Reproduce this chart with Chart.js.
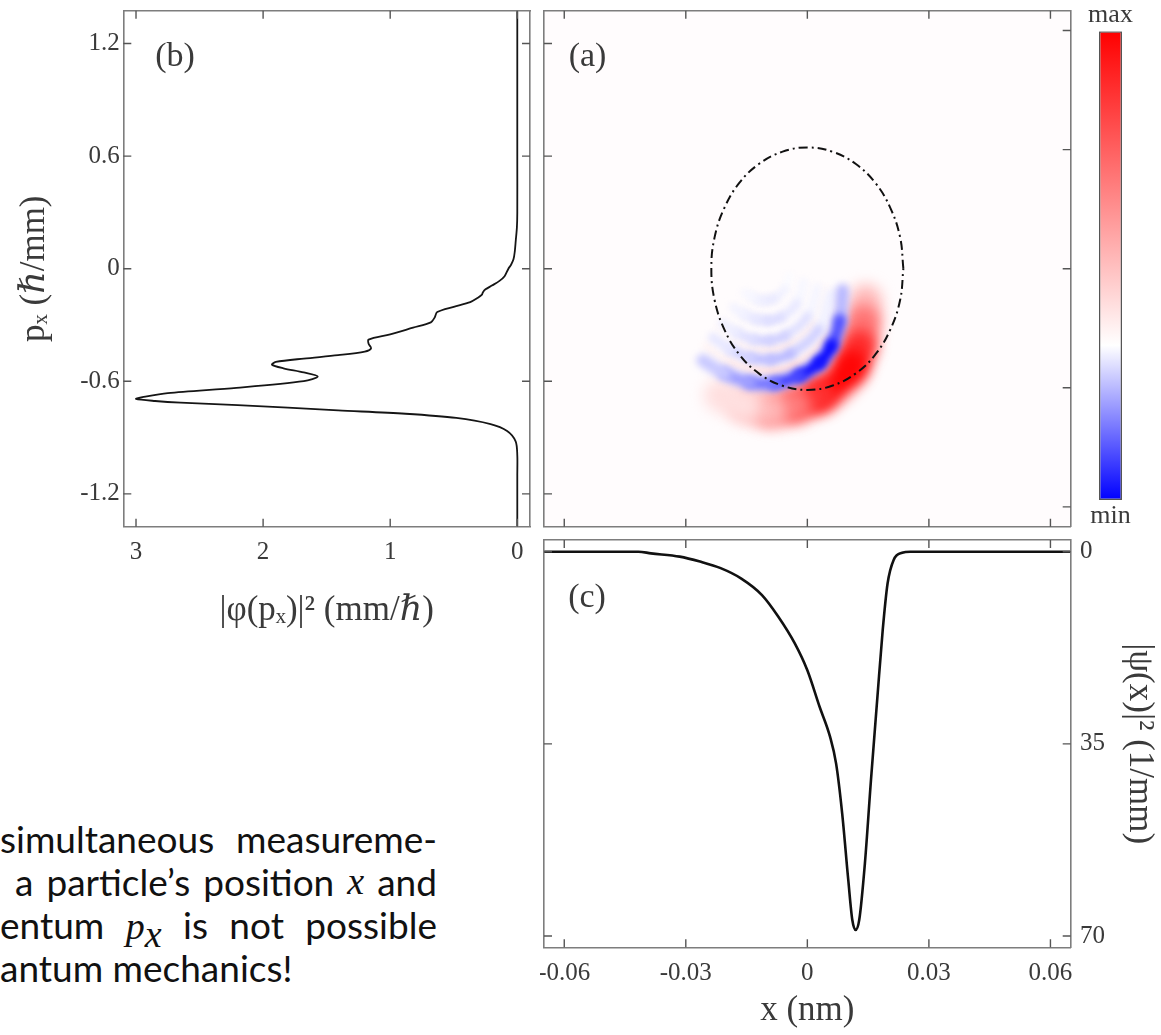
<!DOCTYPE html>
<html lang="en">
<head>
<meta charset="UTF-8">
<title>Wigner function with momentum and position distributions</title>
<script src="https://cdn.jsdelivr.net/npm/chart.js"></script>
<style>
  html, body { margin: 0; padding: 0; background: #fff; }
  #page { position: relative; width: 1161px; height: 1035px; overflow: hidden; }
  #page canvas { position: absolute; }
  .note { position: absolute; height: 43px; font-family: Lato, 'Open Sans', sans-serif; font-size: 37px; line-height: 43px; color: #111; white-space: nowrap; }
  .note.row { display: flex; justify-content: space-between; }
  .note i { font-family: 'Liberation Serif', 'DejaVu Serif', serif; font-size: 38px; }
  .note sub { font-size: 23px; line-height: 0; }
</style>
</head>
<body>
<div id="page">
  <canvas id="panelB" width="545" height="640" style="left:0;top:0;width:545px;height:640px"></canvas>
  <canvas id="panelA" width="540" height="535" style="left:540px;top:0;width:540px;height:535px"></canvas>
  <canvas id="panelC" width="621" height="500" style="left:540px;top:535px;width:621px;height:500px"></canvas>
  <canvas id="colorbar" width="101" height="535" style="left:1060px;top:0;width:101px;height:535px"></canvas>

  <div class="note row" style="left:0;top:817px;width:437px"><span>simultaneous</span><span>measureme-</span></div>
  <div class="note row" style="left:15px;top:860px;width:422px"><span>a</span><span>particle’s</span><span>position</span><i>x</i><span>and</span></div>
  <div class="note row" style="left:0;top:903px;width:437px"><span>entum</span><span><i>p</i><sub><i>x</i></sub></span><span>is</span><span>not</span><span>possible</span></div>
  <div class="note" style="left:0;top:946px">antum mechanics!</div>
</div>

<script>
// ---------- data ----------

// (b) momentum distribution |φ(p_x)|² (mm/ħ) against p_x (ħ/mm)
const momP = [1.375, 0.6, 0.3, 0.22, 0.15, 0.09, 0.05, 0.02, 0, -0.04, -0.065, -0.09, -0.11, -0.125, -0.14, -0.155,
              -0.178, -0.203, -0.231, -0.26, -0.286, -0.314, -0.35, -0.378, -0.40, -0.424, -0.442, -0.461, -0.479,
              -0.497, -0.512, -0.531, -0.553, -0.575, -0.599, -0.635, -0.663, -0.685, -0.694, -0.705, -0.714, -0.727,
              -0.755, -0.773, -0.795, -0.828, -0.865, -0.92, -0.994, -1.1, -1.375];
const momDensity = [0, 0, 0, 0.003, 0.012, 0.02, 0.03, 0.05, 0.07, 0.1, 0.14, 0.2, 0.25, 0.27, 0.28, 0.31,
                    0.37, 0.5, 0.63, 0.65, 0.68, 0.82, 1.0, 1.17, 1.17, 1.15, 1.2, 1.41, 1.68,
                    1.9, 1.93, 1.84, 1.68, 1.57, 1.68, 2.21, 2.75, 2.95, 3.0, 2.85, 2.65, 2.2,
                    1.41, 0.88, 0.48, 0.21, 0.08, 0.013, 0, 0, 0];

// (c) position distribution |ψ(x)|² (1/mm) against x (nm)
const posX = [-0.065, -0.05, -0.0417, -0.0386, -0.0315, -0.0265, -0.0214, -0.0163, -0.0112, -0.0072, -0.0031, 0,
              0.003, 0.0056, 0.0071, 0.0086, 0.0101, 0.0111, 0.0119, 0.0128, 0.0142, 0.0157, 0.0173, 0.0186,
              0.0198, 0.0213, 0.0234, 0.0254, 0.04, 0.065];
const posDensity = [0, 0, 0, 0.3, 0.9, 1.8, 3.0, 4.9, 7.9, 11.8, 16.7, 21.6,
                    28.2, 33.7, 38.6, 47.7, 59.8, 67.1, 68.9, 67.1, 56.8, 41.6, 26.4, 14.3,
                    5.8, 1.5, 0.2, 0, 0, 0];

// (a) dash-dot ellipse
const ellipseX = [0.0237, 0.0229, 0.0205, 0.0168, 0.0119, 0.0061, 0, -0.0061, -0.0119, -0.0168, -0.0205, -0.0229,
                  -0.0237, -0.0229, -0.0205, -0.0168, -0.0119, -0.0061, 0, 0.0061, 0.0119, 0.0168, 0.0205, 0.0229, 0.0237];
const ellipseP = [0, 0.167, 0.323, 0.457, 0.559, 0.624, 0.646, 0.624, 0.559, 0.457, 0.323, 0.167,
                  0, -0.167, -0.323, -0.457, -0.559, -0.624, -0.646, -0.624, -0.559, -0.457, -0.323, -0.167, 0];

// (a) Wigner function ridges: points along each fringe and its level (+1 = max, -1 = min)
const redMainX = [0.0144, 0.0139, 0.0129, 0.0109, 0.0080, 0.0030, -0.0031, -0.0093, -0.0155, -0.0216];
const redMainP = [-0.169, -0.276, -0.409, -0.516, -0.596, -0.676, -0.729, -0.756, -0.729, -0.676];
const redMainW = [0.15, 0.38, 0.7, 0.95, 1, 0.95, 0.65, 0.38, 0.18, 0.07];

const blueMainX = [0.0087, 0.0080, 0.0060, 0.0030, -0.0019, -0.0081, -0.0142, -0.0204, -0.0258];
const blueMainP = [-0.116, -0.276, -0.409, -0.500, -0.569, -0.611, -0.606, -0.558, -0.489];
const blueMainW = [-0.1, -0.45, -0.9, -1, -0.85, -0.6, -0.45, -0.3, -0.12];

const blue4X = [0.0057, 0.0028, -0.0041, -0.0090, -0.0140, -0.0189, -0.0233];
const blue4P = [-0.132, -0.324, -0.452, -0.484, -0.474, -0.431, -0.367];
const blue4W = [-0.01, -0.1, -0.26, -0.28, -0.22, -0.14, -0.05];

const blue3X = [0.0025, 0.0001, -0.0054, -0.0093, -0.0132, -0.0174, -0.0209];
const blue3P = [-0.10, -0.254, -0.356, -0.382, -0.377, -0.340, -0.292];
const blue3W = [-0.01, -0.07, -0.18, -0.2, -0.16, -0.1, -0.04];

const blue2X = [-0.0009, -0.0026, -0.0066, -0.0096, -0.0125, -0.0155, -0.0182];
const blue2P = [-0.068, -0.185, -0.260, -0.276, -0.270, -0.244, -0.206];
const blue2W = [-0.01, -0.05, -0.13, -0.15, -0.11, -0.07, -0.03];

const blue1X = [-0.0044, -0.0056, -0.0081, -0.0100, -0.0118, -0.0137, -0.0155];
const blue1P = [-0.036, -0.110, -0.158, -0.169, -0.169, -0.148, -0.126];
const blue1W = [0, -0.03, -0.08, -0.09, -0.07, -0.04, -0.02];

const red2X = [0.0080, 0.0045, -0.0031, -0.0088, -0.0142, -0.0201, -0.0248];
const red2P = [-0.153, -0.366, -0.511, -0.543, -0.532, -0.489, -0.415];
const red2W = [0.01, 0.06, 0.12, 0.12, 0.1, 0.06, 0.03];

const red1X = [0.0043, 0.0015, -0.0046, -0.0091, -0.0135, -0.0182, -0.0221];
const red1P = [-0.116, -0.292, -0.404, -0.431, -0.426, -0.388, -0.329];
const red1W = [0.01, 0.04, 0.07, 0.07, 0.05, 0.03, 0.01];

// ticks
const tickP = [-1.2, -0.6, 0, 0.6, 1.2];
const tickDensityB = [0, 1, 2, 3];
const tickX = [-0.06, -0.03, 0, 0.03, 0.06];
const tickDensityC = [0, 35, 70];
const colorbarLabels = ['min', 'max'];

// ---------- styling helpers ----------
const SERIF = "'Liberation Serif', 'DejaVu Serif', serif";
const INK = '#3a3a3a';
const FRAME = '#7d7d7d';
const TICK = '#555';

function pairs(xs, ys) {
    return xs.map((x, i) => ({ x: x, y: ys[i] }));
}

// box frame axis; tick marks are drawn inwards by the innerTicks plugin
function frameAxis(position, min, max, ticks, extra) {
    const o = Object.assign({ labels: false, size: 0, pad: 0, title: '', titlePad: 0, reverse: false }, extra);
    return {
        type: 'linear',
        position: position,
        min: min,
        max: max,
        reverse: o.reverse,
        afterBuildTicks: s => { s.ticks = ticks.map(v => ({ value: v })); },
        afterFit: s => {
            if (s.isHorizontal()) s.height = o.size; else s.width = o.size;
            s.paddingLeft = s.paddingRight = s.paddingTop = s.paddingBottom = 0;
        },
        border: { display: true, color: FRAME, width: 1.6, z: 1 },
        grid: { drawOnChartArea: false, drawTicks: false },
        ticks: { display: o.labels, padding: o.pad, color: INK, font: { family: SERIF, size: 25 }, maxRotation: 0, autoSkip: false },
        title: { display: !!o.title, text: o.title, color: INK, font: { family: SERIF, size: 35 }, padding: o.titlePad }
    };
}

// colour for a Wigner level: white at 0, red at +1, blue at -1
function wigColor(w) {
    const k = Math.round(255 * (1 - Math.min(Math.abs(w), 1)));
    return w >= 0 ? `rgb(255,${k},${k})` : `rgb(${k},${k},255)`;
}

function ridge(xs, ps, ws, width, blur, order) {
    return {
        data: pairs(xs, ps),
        borderWidth: width,
        borderColor: wigColor(ws[0]),
        borderCapStyle: 'round',
        segment: { borderColor: c => wigColor((ws[c.p0DataIndex] + ws[c.p1DataIndex]) / 2) },
        pointRadius: 0,
        tension: 0.4,
        blur: blur,
        order: order
    };
}

// inward tick marks on every side of the box
const innerTicks = {
    id: 'innerTicks',
    afterDraw(chart) {
        const { ctx, chartArea: a } = chart;
        ctx.save();
        ctx.strokeStyle = TICK;
        ctx.lineWidth = 1.4;
        ctx.beginPath();
        Object.values(chart.scales).forEach(s => {
            s.ticks.forEach(t => {
                const v = s.getPixelForValue(t.value);
                if (s.position === 'left') { ctx.moveTo(a.left, v); ctx.lineTo(a.left + 8, v); }
                else if (s.position === 'right') { ctx.moveTo(a.right, v); ctx.lineTo(a.right - 8, v); }
                else if (s.position === 'top') { ctx.moveTo(v, a.top); ctx.lineTo(v, a.top + 8); }
                else { ctx.moveTo(v, a.bottom); ctx.lineTo(v, a.bottom - 8); }
            });
        });
        ctx.stroke();
        ctx.restore();
    }
};

// panel letters inside the plot area
const panelLabel = {
    id: 'panelLabel',
    afterDraw(chart, args, opts) {
        if (!opts.text) return;
        const { ctx, chartArea } = chart;
        ctx.save();
        ctx.font = `34px ${SERIF}`;
        ctx.fillStyle = INK;
        ctx.textAlign = 'center';
        ctx.textBaseline = 'middle';
        ctx.fillText(opts.text, chartArea.left + opts.dx, chartArea.top + opts.dy);
        ctx.restore();
    }
};

// blur the colour-map ridges so they read as a smooth map
const softFocus = {
    id: 'softFocus',
    beforeDatasetDraw(chart, args) {
        const r = chart.data.datasets[args.index].blur;
        if (!r) return;
        chart.ctx.save();
        chart.ctx.filter = 'blur(' + r + 'px)';
    },
    afterDatasetDraw(chart, args) {
        if (chart.data.datasets[args.index].blur) chart.ctx.restore();
    }
};

const areaFill = {
    id: 'areaFill',
    beforeDatasetsDraw(chart, args, opts) {
        if (!opts.color) return;
        const { ctx, chartArea: c } = chart;
        ctx.save();
        ctx.fillStyle = opts.color;
        ctx.fillRect(c.left, c.top, c.width, c.height);
        ctx.restore();
    }
};

function baseOptions(padding) {
    return {
        responsive: false,
        maintainAspectRatio: false,
        animation: false,
        events: [],
        layout: { padding: padding, autoPadding: false },
        plugins: { legend: { display: false }, tooltip: { enabled: false } }
    };
}

Chart.defaults.font.family = SERIF;

// ---------- (b) momentum distribution ----------
const optB = baseOptions({ left: 0, top: 10.7, right: 15, bottom: 0 });
optB.plugins.panelLabel = { text: '(b)', dx: 51.7, dy: 46 };
optB.scales = {
    x: frameAxis('bottom', -0.1, 3.1, tickDensityB, { reverse: true, labels: true, size: 113.3, pad: 11, title: '|φ(pₓ)|² (mm/ℏ)', titlePad: 8 }),
    x2: frameAxis('top', -0.1, 3.1, tickDensityB, { reverse: true }),
    y: frameAxis('left', -1.375, 1.375, tickP, { labels: true, size: 123.3, pad: 3.5, title: 'pₓ (ℏ/mm)', titlePad: 14 }),
    y2: frameAxis('right', -1.375, 1.375, tickP)
};
new Chart(document.getElementById('panelB'), {
    type: 'line',
    data: {
        datasets: [{
            data: pairs(momDensity, momP),
            borderColor: '#151515',
            borderWidth: 1.8,
            pointRadius: 0,
            tension: 0.3,
            fill: false
        }]
    },
    options: optB,
    plugins: [innerTicks, panelLabel]
});

// ---------- (a) phase-space map ----------
const optA = baseOptions({ left: 4, top: 10.7, right: 9.3, bottom: 8.3 });
optA.plugins.panelLabel = { text: '(a)', dx: 43.5, dy: 46 };
optA.plugins.areaFill = { color: '#fffcfd' };
optA.scales = {
    x: frameAxis('bottom', -0.065, 0.065, tickX),
    x2: frameAxis('top', -0.065, 0.065, tickX),
    y: frameAxis('left', -1.375, 1.375, tickP),
    y2: frameAxis('right', -1.3, 1.3, tickP)
};
new Chart(document.getElementById('panelA'), {
    type: 'line',
    data: {
        datasets: [
            ridge(red1X, red1P, red1W, 9, 3, 9),
            ridge(blue1X, blue1P, blue1W, 8, 3, 8),
            ridge(blue2X, blue2P, blue2W, 9, 3, 7),
            ridge(blue3X, blue3P, blue3W, 9, 3, 6),
            ridge(red2X, red2P, red2W, 9, 3, 5),
            ridge(blue4X, blue4P, blue4W, 10, 3, 4),
            ridge(redMainX, redMainP, redMainW, 32, 7, 3),
            ridge(blueMainX, blueMainP, blueMainW, 13, 3.5, 2),
            {
                data: pairs(ellipseX, ellipseP),
                borderColor: '#111',
                borderWidth: 2,
                borderDash: [9, 4, 2, 4],
                pointRadius: 0,
                tension: 0.4,
                order: 0
            }
        ]
    },
    options: optA,
    plugins: [areaFill, softFocus, innerTicks, panelLabel]
});

// ---------- (c) position distribution ----------
const optC = baseOptions({ left: 4, top: 5, right: 0, bottom: 0 });
optC.plugins.panelLabel = { text: '(c)', dx: 43, dy: 58 };
optC.scales = {
    x: frameAxis('bottom', -0.065, 0.065, tickX, { labels: true, size: 87.7, pad: 10.7, title: 'x (nm)', titlePad: 3 }),
    x2: frameAxis('top', -0.065, 0.065, tickX),
    y: frameAxis('left', -2.13, 72.06, tickDensityC, { reverse: true }),
    y2: frameAxis('right', -2.13, 72.06, tickDensityC, { reverse: true, labels: true, size: 90.3, pad: 9.3, title: '|ψ(x)|² (1/mm)', titlePad: 1 })
};
new Chart(document.getElementById('panelC'), {
    type: 'line',
    data: {
        datasets: [{
            data: pairs(posX, posDensity),
            yAxisID: 'y2',
            borderColor: '#111',
            borderWidth: 2.6,
            pointRadius: 0,
            cubicInterpolationMode: 'monotone',
            fill: false
        }]
    },
    options: optC,
    plugins: [innerTicks, panelLabel]
});

// ---------- colour bar ----------
const optBar = baseOptions({ left: 0, right: 0, top: 0, bottom: 0 });
optBar.plugins.title = {
    display: true, text: colorbarLabels[1], color: INK,
    font: { family: SERIF, size: 26, weight: 'normal' }, padding: { top: 0, bottom: 0 }
};
optBar.plugins.subtitle = {
    display: true, position: 'bottom', text: colorbarLabels[0], color: INK,
    font: { family: SERIF, size: 26, weight: 'normal' }, padding: { top: 0.5, bottom: 3.3 }
};
optBar.scales = {
    x: { display: false },
    y: { display: false, min: 0, max: 1 }
};
new Chart(document.getElementById('colorbar'), {
    type: 'bar',
    data: {
        labels: [''],
        datasets: [{
            data: [1],
            backgroundColor: c => {
                const a = c.chart.chartArea;
                if (!a) return '#fff';
                const g = c.chart.ctx.createLinearGradient(0, a.bottom, 0, a.top);
                g.addColorStop(0, '#0000ff');
                g.addColorStop(0.33, '#ffffff');
                g.addColorStop(1, '#ff0000');
                return g;
            },
            borderColor: '#555',
            borderWidth: 1.5,
            borderSkipped: false,
            barPercentage: 0.228,
            categoryPercentage: 1
        }]
    },
    options: optBar
});
</script>
</body>
</html>
